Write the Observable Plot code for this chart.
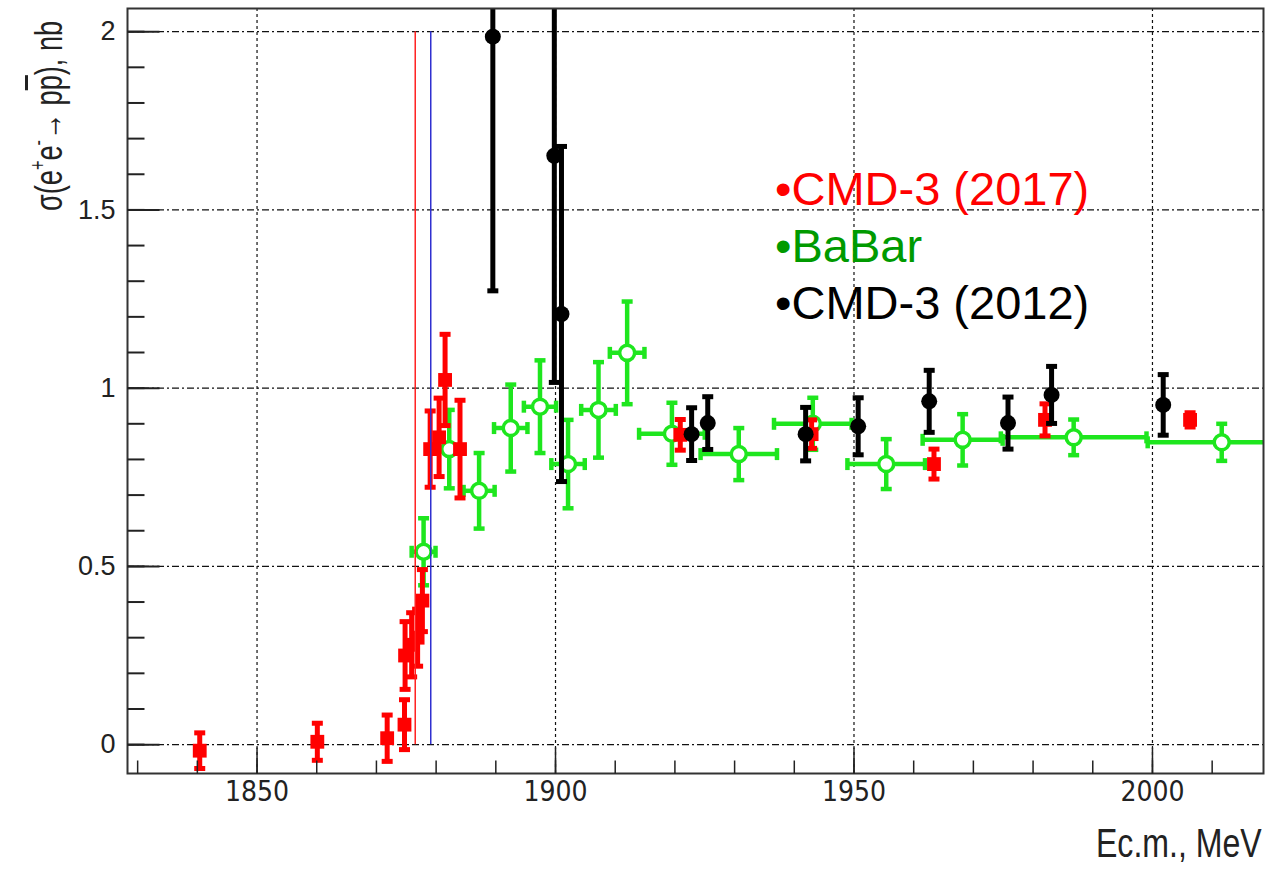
<!DOCTYPE html>
<html>
<head>
<meta charset="utf-8">
<script src="https://cdn.jsdelivr.net/npm/d3@7"></script>
<script src="https://cdn.jsdelivr.net/npm/@observablehq/plot@0.6"></script>
<style>
  body { margin: 0; background: #fff; }
  #wrap { position: relative; width: 1266px; height: 869px; font-family: "Liberation Sans", Arial, sans-serif; }
  #chart { position: absolute; left: 0; top: 0; }
  #ytitle {
    position: absolute; left: 30px; top: 211px;
    transform-origin: left top;
    white-space: nowrap; font-size: 38px; line-height: 1; color: #222;
  }
  #ytitle sup { font-size: 60%; vertical-align: 0.75em; line-height: 0; }
  #ytitle .bar { text-decoration: overline; }
  #xtitle {
    position: absolute; right: 4px; top: 823px; white-space: nowrap;
    transform-origin: right top;
    font-size: 40px; line-height: 1; color: #222;
  }
  #legend { position: absolute; left: 775px; top: 160px; font-size: 47px; line-height: 57px; white-space: nowrap; }
</style>
</head>
<body>
<div id="wrap">
  <div id="chart"></div>
  <div id="ytitle">σ(e<sup>+</sup>e<sup>-</sup>→ p<span class="bar">p</span>), nb</div>
  <div id="xtitle">Ec.m., MeV</div>
  <div id="legend"></div>
</div>
<script>
// CMD-3 (2017): energy (MeV), cross section (nb), statistical error
const cmd17X   = [1840.4, 1860.1, 1871.8, 1874.7, 1874.8, 1875.9, 1876.9, 1877.7, 1879.0, 1880.5, 1881.5, 1884.0, 1920.9, 1942.9, 1963.4, 1982.0, 2006.3];
const cmd17Y   = [-0.017, 0.008, 0.018, 0.056, 0.25, 0.28, 0.30, 0.404, 0.829, 0.862, 1.023, 0.829, 0.869, 0.871, 0.787, 0.911, 0.911];
const cmd17Err = [0.05, 0.052, 0.065, 0.07, 0.095, 0.09, 0.08, 0.087, 0.107, 0.11, 0.128, 0.137, 0.043, 0.04, 0.042, 0.045, 0.02];

// BaBar: bin centre, cross section, error, half bin width
const babarX    = [1877.9, 1882.2, 1887.2, 1892.5, 1897.4, 1902.1, 1907.2, 1912.0, 1919.5, 1930.7, 1943.1, 1955.4, 1968.2, 1986.8, 2011.6];
const babarY    = [0.541, 0.829, 0.712, 0.888, 0.948, 0.787, 0.939, 1.099, 0.872, 0.815, 0.90, 0.787, 0.855, 0.862, 0.848];
const babarErr  = [0.094, 0.11, 0.106, 0.122, 0.13, 0.124, 0.134, 0.144, 0.087, 0.073, 0.073, 0.07, 0.072, 0.05, 0.052];
const babarXErr = [2.0, 2.5, 2.6, 2.8, 2.7, 2.8, 2.9, 2.9, 5.5, 6.4, 6.5, 6.5, 6.7, 12.2, 12.4];

// CMD-3 (2012)
const cmd12X   = [1889.5, 1899.8, 1901.0, 1922.8, 1925.5, 1941.9, 1950.7, 1962.6, 1975.8, 1983.1, 2001.8];
const cmd12Y   = [1.986, 1.652, 1.208, 0.871, 0.902, 0.871, 0.893, 0.963, 0.902, 0.981, 0.953];
const cmd12Err = [0.713, 0.636, 0.47, 0.074, 0.074, 0.075, 0.08, 0.087, 0.073, 0.08, 0.085];

// production thresholds: 2 m_p and 2 m_n
const thresholds = [1876.5, 1879.1];
const thresholdColors = ["#ff2020", "#3030d0"];

const xMajor = [1850, 1900, 1950, 2000];
const xMinor = d3.range(1830, 2011, 10);
const yMajor = [0, 0.5, 1, 1.5, 2];
const yMinor = d3.range(0, 21).map(i => i / 10);

const legendNames  = ["CMD-3 (2017)", "BaBar", "CMD-3 (2012)"];
const legendColors = ["#ff0000", "#009a00", "#000000"];

const RED = "#ff0000", GREEN = "#1ee61e", BLACK = "#000000";

const red = cmd17X.map((x, i) => ({x, y: cmd17Y[i], e: cmd17Err[i]}));
const green = babarX.map((x, i) => ({x, y: babarY[i], e: babarErr[i], w: babarXErr[i]}));
const black = cmd12X.map((x, i) => ({x, y: cmd12Y[i], e: cmd12Err[i]}));

// small line symbols for error-bar caps and inward axis ticks
const capH = {draw(c, s) { const r = Math.sqrt(s / Math.PI); c.moveTo(-r, 0); c.lineTo(r, 0); }};
const capV = {draw(c, s) { const r = Math.sqrt(s / Math.PI); c.moveTo(0, -r); c.lineTo(0, r); }};
const tickRight = len => ({draw(c) { c.moveTo(0, 0); c.lineTo(len, 0); }});
const tickUp = len => ({draw(c) { c.moveTo(0, 0); c.lineTo(0, -len); }});

const narrow = "'Liberation Sans Narrow', 'Arial Narrow', 'DejaVu Sans Condensed', sans-serif";

function errorMarks(data, color, lw, capR) {
  return [
    Plot.ruleX(data, {x: "x", y1: d => d.y - d.e, y2: d => d.y + d.e, stroke: color, strokeWidth: lw, clip: true}),
    Plot.dot(data, {x: "x", y: d => d.y - d.e, symbol: capH, r: capR, stroke: color, strokeWidth: lw, clip: true}),
    Plot.dot(data, {x: "x", y: d => d.y + d.e, symbol: capH, r: capR, stroke: color, strokeWidth: lw, clip: true})
  ];
}

const chart = Plot.plot({
  width: 1266,
  height: 869,
  marginLeft: 127,
  marginRight: 3,
  marginTop: 8,
  marginBottom: 96,
  style: {fontFamily: "'Liberation Sans', Arial, sans-serif", color: "#222", background: "white"},
  x: {domain: [1828.3, 2018.6]},
  y: {domain: [-0.081, 2.065]},
  marks: [
    // grid
    Plot.ruleY(yMajor, {stroke: "#111", strokeWidth: 1.2, strokeDasharray: "7,3,2,3"}),
    Plot.ruleX(xMajor, {stroke: "#111", strokeWidth: 1.2, strokeDasharray: "3,3"}),

    // BaBar: horizontal bin bars, vertical error bars, open circles
    Plot.ruleY(green, {y: "y", x1: d => d.x - d.w, x2: d => d.x + d.w, stroke: GREEN, strokeWidth: 4.5, clip: true}),
    Plot.dot(green, {x: d => d.x - d.w, y: "y", symbol: capV, r: 6, stroke: GREEN, strokeWidth: 4.5, clip: true}),
    Plot.dot(green, {x: d => d.x + d.w, y: "y", symbol: capV, r: 6, stroke: GREEN, strokeWidth: 4.5, clip: true}),
    ...errorMarks(green, GREEN, 4.5, 5.5),
    Plot.dot(green, {x: "x", y: "y", r: 7.5, fill: "white", stroke: GREEN, strokeWidth: 3.5, clip: true}),

    // CMD-3 (2017)
    ...errorMarks(red, RED, 5, 5.5),
    Plot.dot(red, {x: "x", y: "y", symbol: "square", r: 7.8, fill: RED, stroke: "none"}),

    // CMD-3 (2012)
    ...errorMarks(black, BLACK, 5, 5.5),
    Plot.dot(black, {x: "x", y: "y", r: 8, fill: BLACK, stroke: "none", clip: true}),

    // thresholds
    Plot.ruleX(thresholds, {x: d => d, y1: 0, y2: 2, stroke: (d, i) => thresholdColors[i], strokeWidth: 1.5}),

    // frame and inward ticks
    Plot.frame({stroke: "#333", strokeWidth: 2}),
    Plot.dot(yMinor, {y: d => d, frameAnchor: "left", symbol: tickRight(17), r: 3, stroke: "#222", strokeWidth: 2}),
    Plot.dot(yMajor, {y: d => d, frameAnchor: "left", symbol: tickRight(32), r: 3, stroke: "#222", strokeWidth: 2}),
    Plot.dot(xMinor, {x: d => d, frameAnchor: "bottom", symbol: tickUp(13), r: 3, stroke: "#222", strokeWidth: 1.5}),
    Plot.dot(xMajor, {x: d => d, frameAnchor: "bottom", symbol: tickUp(26), r: 3, stroke: "#222", strokeWidth: 1.5}),

    // tick labels
    Plot.axisY({ticks: yMajor, tickSize: 0, tickPadding: 12, fontSize: 27, label: null, tickFormat: d => String(d)}),
    Plot.axisX({ticks: xMajor, tickSize: 0, tickPadding: 8, fontSize: 28, fontFamily: narrow, label: null, tickFormat: d => String(d)})
  ]
});
document.getElementById("chart").appendChild(chart);

// legend
const legend = document.getElementById("legend");
legendNames.forEach((name, i) => {
  const line = document.createElement("div");
  line.style.color = legendColors[i];
  line.textContent = "•" + name;
  legend.appendChild(line);
});

// both axis titles are set in a condensed width
const yt = document.getElementById("ytitle");
yt.style.transform = `rotate(-90deg) scaleX(${190 / yt.offsetWidth})`;
const xt = document.getElementById("xtitle");
xt.style.transform = `scaleX(${166 / xt.offsetWidth})`;
</script>
</body>
</html>
